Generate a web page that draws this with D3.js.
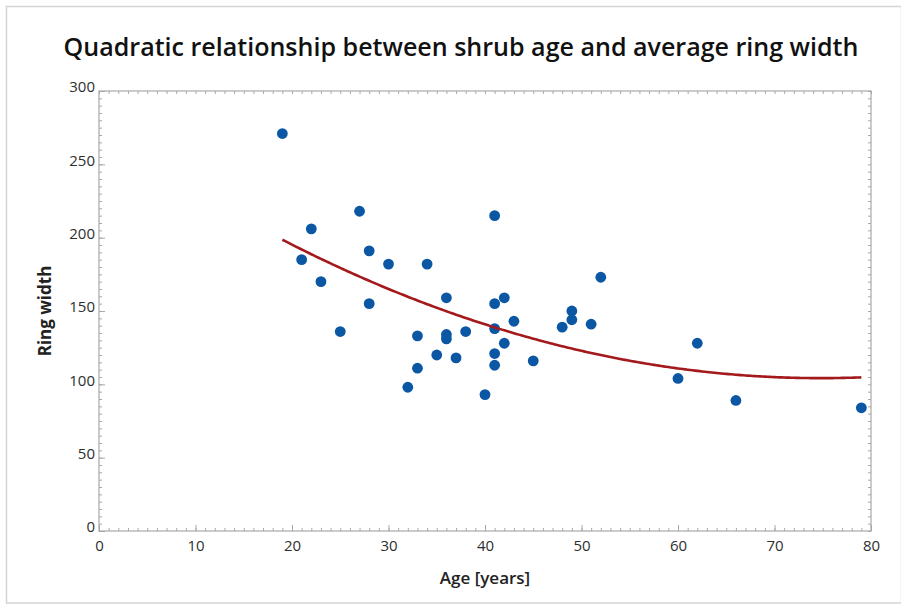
<!DOCTYPE html>
<html>
<head>
<meta charset="utf-8">
<script src="https://cdn.jsdelivr.net/npm/d3@7/dist/d3.min.js"></script>
<style>
  html, body { margin: 0; padding: 0; background: #fff; }
  svg { display: block; }
</style>
</head>
<body>
<svg id="chart" width="901" height="608"></svg>
<script>
// Shrub age (years) and average ring width for each sampled shrub
const ages = [19, 21, 22, 23, 25, 27, 28, 28, 30, 32, 33, 33, 34, 35, 36, 36, 36, 37, 38,
              40, 41, 41, 41, 41, 41, 42, 42, 43, 45, 48, 49, 49, 51, 52, 60, 62, 66, 79];
const ringWidths = [271, 185, 206, 170, 136, 218, 191, 155, 182, 98, 133, 111, 182, 120, 159, 134, 131, 118, 136,
                    93, 215, 155, 138, 121, 113, 159, 128, 143, 116, 139, 150, 144, 141, 173, 104, 128, 89, 84];

const xTicks = [0, 10, 20, 30, 40, 50, 60, 70, 80];
const yTicks = [0, 50, 100, 150, 200, 250, 300];

const titleText = "Quadratic relationship between shrub age and average ring width";
const xLabel = "Age [years]";
const yLabel = "Ring width";

const svg = d3.select("#chart");
const W = 901, H = 608;
const plot = { left: 99, right: 871, top: 91, bottom: 531 };

// outer frame
svg.append("rect")
  .attr("x", 6.5).attr("y", 6.5)
  .attr("width", W - 6).attr("height", 603 - 6.5)
  .attr("fill", "#fff").attr("stroke", "#d4d4d4").attr("stroke-width", 1.5);

const x = d3.scaleLinear().domain([0, 80]).range([plot.left, plot.right]);
const y = d3.scaleLinear().domain([0, 300]).range([plot.bottom, plot.top]);

const fontFam = "'Open Sans', 'Noto Sans', sans-serif";
const axisGrey = "#a8a8a8";

// plot box
svg.append("rect")
  .attr("x", plot.left).attr("y", plot.top)
  .attr("width", plot.right - plot.left).attr("height", plot.bottom - plot.top)
  .attr("fill", "none").attr("stroke", axisGrey).attr("stroke-width", 1.2);

// minor ticks (inward) on all four sides
const xMinor = d3.range(0, 81, 1);
const yMinor = d3.range(0, 301, 5);
function tickGroup(axisGen, tx, ty) {
  const g = svg.append("g").attr("transform", `translate(${tx},${ty})`).call(axisGen);
  g.select(".domain").remove();
  g.selectAll("line").attr("stroke", axisGrey).attr("stroke-width", 1);
  g.selectAll("text").remove();
  return g;
}
tickGroup(d3.axisBottom(x).tickValues(xMinor).tickSize(-3), 0, plot.bottom);
tickGroup(d3.axisTop(x).tickValues(xMinor).tickSize(-3), 0, plot.top);
tickGroup(d3.axisLeft(y).tickValues(yMinor).tickSize(-3), plot.left, 0);
tickGroup(d3.axisRight(y).tickValues(yMinor).tickSize(-3), plot.right, 0);
// major ticks
tickGroup(d3.axisBottom(x).tickValues(xTicks).tickSize(-6), 0, plot.bottom);
tickGroup(d3.axisLeft(y).tickValues(yTicks).tickSize(-6), plot.left, 0);

// tick labels
const xAxis = svg.append("g").attr("transform", `translate(0,${plot.bottom})`)
  .call(d3.axisBottom(x).tickValues(xTicks).tickSize(0).tickPadding(9).tickFormat(d3.format("d")));
xAxis.select(".domain").remove();
xAxis.selectAll("text").attr("font-family", fontFam).attr("font-size", 15).attr("fill", "#2e2e2e");

const yAxis = svg.append("g").attr("transform", `translate(${plot.left},0)`)
  .call(d3.axisLeft(y).tickValues(yTicks).tickSize(0).tickPadding(4).tickFormat(d3.format("d")));
yAxis.select(".domain").remove();
yAxis.selectAll("text").attr("font-family", fontFam).attr("font-size", 15).attr("fill", "#2e2e2e")
  .attr("dy", "0.05em");

// least-squares quadratic fit: width = b0 + b1*age + b2*age^2
function quadFit(xs, ys) {
  const n = xs.length;
  let S = [0, 0, 0, 0, 0], T = [0, 0, 0];
  for (let i = 0; i < n; i++) {
    let p = 1;
    for (let k = 0; k < 5; k++) { S[k] += p; if (k < 3) T[k] += p * ys[i]; p *= xs[i]; }
  }
  const A = [[S[0], S[1], S[2], T[0]], [S[1], S[2], S[3], T[1]], [S[2], S[3], S[4], T[2]]];
  for (let c = 0; c < 3; c++) {
    for (let r = c + 1; r < 3; r++) {
      const f = A[r][c] / A[c][c];
      for (let k = c; k < 4; k++) A[r][k] -= f * A[c][k];
    }
  }
  const b = [0, 0, 0];
  for (let r = 2; r >= 0; r--) {
    let s = A[r][3];
    for (let k = r + 1; k < 3; k++) s -= A[r][k] * b[k];
    b[r] = s / A[r][r];
  }
  return b;
}
const coef = quadFit(ages, ringWidths);
const ageExtent = d3.extent(ages);
const fitPts = d3.range(ageExtent[0], ageExtent[1] + 0.001, 0.25)
  .map(a => [a, coef[0] + coef[1] * a + coef[2] * a * a]);

// points
svg.append("g").selectAll("circle")
  .data(ages.map((a, i) => [a, ringWidths[i]]))
  .join("circle")
  .attr("cx", d => x(d[0])).attr("cy", d => y(d[1]))
  .attr("r", 5.4).attr("fill", "#0b57a4");

// fitted curve
svg.append("path")
  .datum(fitPts)
  .attr("d", d3.line().x(d => x(d[0])).y(d => y(d[1])))
  .attr("fill", "none").attr("stroke", "#a3191c").attr("stroke-width", 2.6);

// title, sized to span the chart width
const title = svg.append("text")
  .attr("x", 461).attr("y", 56).attr("text-anchor", "middle")
  .attr("font-family", fontFam).attr("font-size", 22).attr("font-weight", 600)
  .attr("fill", "#111").text(titleText);
const tw = title.node().getComputedTextLength();
title.attr("font-size", 22 * 795 / tw);

svg.append("text")
  .attr("x", 485).attr("y", 584).attr("text-anchor", "middle")
  .attr("font-family", fontFam).attr("font-size", 17).attr("font-weight", 600)
  .attr("fill", "#222").text(xLabel);

svg.append("text")
  .attr("transform", `translate(51,${311}) rotate(-90)`).attr("text-anchor", "middle")
  .attr("font-family", fontFam).attr("font-size", 17).attr("font-weight", 700)
  .attr("fill", "#222").text(yLabel);
</script>
</body>
</html>
